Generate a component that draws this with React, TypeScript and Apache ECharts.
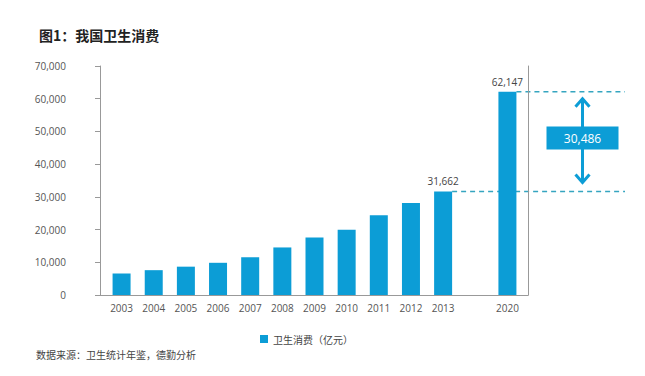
import React, { useEffect, useRef } from "react";
import * as echarts from "echarts";

const categories = ["2003", "2004", "2005", "2006", "2007", "2008", "2009", "2010", "2011", "2012", "2013", "", "2020"];
const spending: (number | null)[] = [6584, 7590, 8660, 9843, 11574, 14535, 17542, 19980, 24346, 28119, 31662, null, 62147];
const annotatedYears = ["2013", "2020"];
const yTicks = [0, 10000, 20000, 30000, 40000, 50000, 60000, 70000];
const seriesName = "卫生消费（亿元）";
const titleText = "图1：我国卫生消费";
const sourceText = "数据来源：卫生统计年鉴，德勤分析";
const gapLabel = "30,486";

const BLUE = "#0c9dd6";
const DASH = "#35a5c0";
const AXIS = "#999";
const FONT = '"Open Sans", "Noto Sans CJK SC", sans-serif';
const CJK = '"Noto Sans CJK SC", sans-serif';
const fmt = (v: number) => v.toLocaleString("en-US");

export default function App() {
  const ref = useRef<HTMLDivElement>(null);
  useEffect(() => {
    document.body.style.margin = "0";
    if (!ref.current) return;
    const chart = echarts.init(ref.current, null, { renderer: "svg" });
    const barWidth = 18;
    const gridLeft = 105.5, gridRight = 121.5, gridTop = 66, gridBottom = 81;
    const padL = 5.5, padR = 5;
    chart.setOption({
      animation: false,
      title: {
        text: titleText,
        left: 34,
        top: 23,
        textStyle: { fontFamily: CJK, fontSize: 14, fontWeight: "bold", color: "#222" },
      },
      legend: {
        data: [seriesName],
        left: 255,
        top: 329,
        icon: "rect",
        itemWidth: 8,
        itemHeight: 8,
        itemGap: 6,
        textStyle: { fontFamily: CJK, fontSize: 10, color: "#444" },
      },
      grid: { left: gridLeft, right: gridRight, top: gridTop, bottom: gridBottom },
      xAxis: {
        type: "category",
        data: categories,
        axisLine: { show: false },
        axisTick: { length: 5, lineStyle: { color: AXIS }, interval: (i: number) => i !== 12 },
        axisLabel: { fontFamily: FONT, fontSize: 10, color: "#555", margin: 8, interval: 0 },
      },
      yAxis: [
        {
          type: "value",
          min: yTicks[0],
          max: yTicks[yTicks.length - 1],
          interval: yTicks[1] - yTicks[0],
          offset: padL,
          axisLine: { show: true, lineStyle: { color: AXIS } },
          axisTick: { show: true, length: 5, lineStyle: { color: AXIS } },
          splitLine: { show: false },
          axisLabel: {
            fontFamily: FONT,
            fontSize: 10,
            color: "#555",
            margin: 34,
            formatter: (v: number) => fmt(v),
          },
        },
        {
          type: "value",
          position: "right",
          min: yTicks[0],
          max: yTicks[yTicks.length - 1],
          interval: yTicks[1] - yTicks[0],
          offset: padR,
          axisLine: { show: true, lineStyle: { color: AXIS } },
          axisTick: { show: false },
          splitLine: { show: false },
          axisLabel: { show: false },
        },
      ],
      series: [
        {
          name: seriesName,
          type: "bar",
          data: spending.map((v) => (v == null ? "-" : v)),
          barWidth,
          itemStyle: { color: BLUE },
          label: {
            show: true,
            position: "top",
            distance: 5,
            fontFamily: FONT,
            fontSize: 10,
            color: "#444",
            formatter: (p: any) => (annotatedYears.includes(p.name) ? fmt(p.value) : ""),
          },
        },
      ],
    });

    const iLow = categories.indexOf(annotatedYears[0]);
    const iHigh = categories.indexOf(annotatedYears[1]);
    const vLow = spending[iLow] as number;
    const vHigh = spending[iHigh] as number;
    const y0 = chart.convertToPixel({ yAxisIndex: 0 }, yTicks[0]) as number;
    const yLow = chart.convertToPixel({ yAxisIndex: 0 }, vLow) as number;
    const yHigh = chart.convertToPixel({ yAxisIndex: 0 }, vHigh) as number;
    const xLow = (chart.convertToPixel({ xAxisIndex: 0 }, categories[iLow]) as number) + barWidth / 2;
    const xHigh = (chart.convertToPixel({ xAxisIndex: 0 }, categories[iHigh]) as number) + barWidth / 2;
    const axL = gridLeft - padL;
    const axR = 645 - gridRight + padR;
    const xEnd = 625;
    const ax = axR + 54;
    const top = yHigh + 6;
    const bot = yLow - 8;
    const mid = (yHigh + yLow) / 2 - 3;
    const dashStyle = { stroke: DASH, lineWidth: 1.5, lineDash: [5, 4] };
    const arrowStyle = { stroke: BLUE, lineWidth: 3, fill: null };
    chart.setOption({
      graphic: [
        { type: "line", shape: { x1: axL, y1: Math.round(y0) + 0.5, x2: axR, y2: Math.round(y0) + 0.5 }, style: { stroke: AXIS, lineWidth: 1 }, silent: true },
        { type: "line", shape: { x1: xLow, y1: yLow, x2: xEnd, y2: yLow }, style: dashStyle, silent: true },
        { type: "line", shape: { x1: xHigh, y1: yHigh, x2: xEnd, y2: yHigh }, style: dashStyle, silent: true },
        { type: "line", shape: { x1: ax, y1: top + 1, x2: ax, y2: bot - 1 }, style: arrowStyle },
        { type: "polyline", shape: { points: [[ax - 7, top + 9], [ax, top + 1], [ax + 7, top + 9]] }, style: arrowStyle },
        { type: "polyline", shape: { points: [[ax - 7, bot - 9], [ax, bot - 1], [ax + 7, bot - 9]] }, style: arrowStyle },
        { type: "rect", shape: { x: ax - 36, y: mid - 12, width: 72, height: 23 }, style: { fill: BLUE } },
        {
          type: "text",
          x: ax,
          y: mid - 0.5,
          style: {
            text: gapLabel,
            fill: "#fff",
            font: `12px ${FONT}`,
            textAlign: "center",
            textVerticalAlign: "middle",
          },
        },
        {
          type: "text",
          left: 36,
          top: 349,
          style: { text: sourceText, fill: "#444", font: `10px ${CJK}` },
        },
      ],
    });
    return () => chart.dispose();
  }, []);
  return <div ref={ref} style={{ width: 645, height: 376 }} />;
}
